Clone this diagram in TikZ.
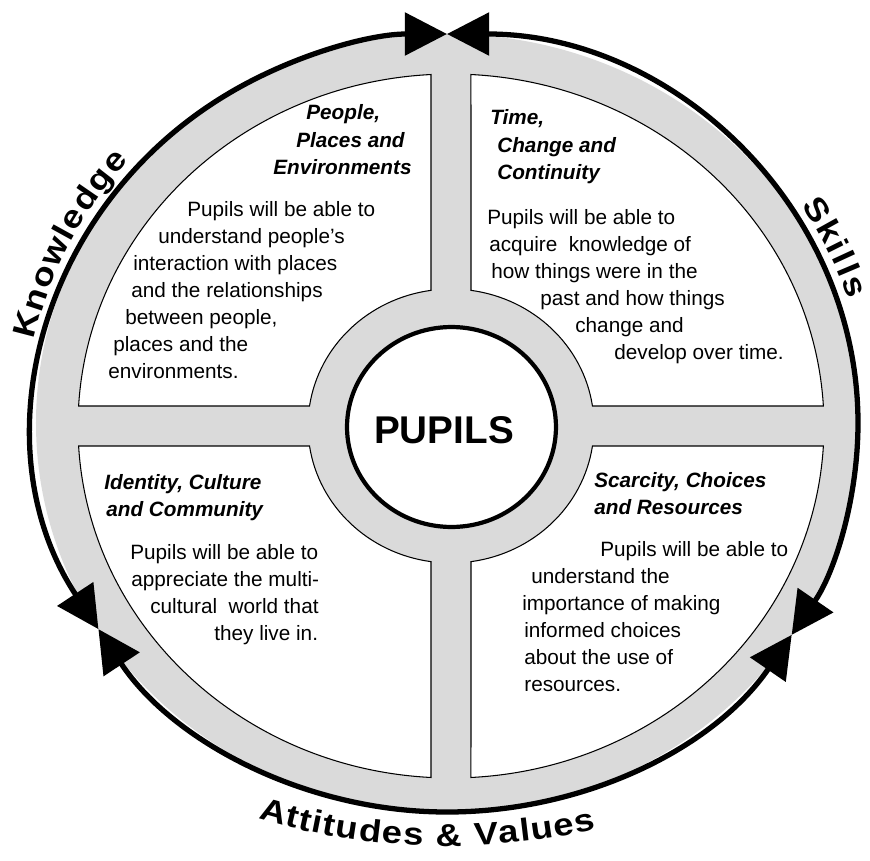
\documentclass[tikz,border=0pt]{standalone}
\usepackage{fontspec}
\setmainfont{Liberation Sans}
\newfontfamily\artfont[FakeStretch=1.15]{Liberation Sans}
\usetikzlibrary{arrows.meta,decorations.text,shapes.geometric}
\definecolor{ringgray}{RGB}{218,218,218}
\newcommand{\px}{0.02cm}
\newcommand{\curvefont}{\fontsize{18}{21}\artfont\bfseries}

\begin{document}
\begin{tikzpicture}[x=\px, y=\px,
    txt/.style={anchor=base west, inner sep=0pt, font=\fontsize{11.8}{14}\selectfont},
    head/.style={anchor=base west, inner sep=0pt, font=\fontsize{11.8}{14}\selectfont\bfseries\itshape},
    quad/.style={draw, fill=white, line width=0.6pt},
    ring/.style={line width=3pt, {Triangle[length=24pt,width=24pt]}-{Triangle[length=24pt,width=24pt]}},
    curved/.style={decorate, decoration={text along path, text align={fit to path}, text format delimiters={|}{|}}},
    pupilring/.style={ellipse, draw, fill=white, line width=2.4pt, minimum width=4.18cm, minimum height=4cm, inner sep=0pt}]
    \useasboundingbox (-447,-437) rectangle (423,423);

    % outer ring
    \fill[ringgray] (0,0) ellipse [x radius=411, y radius=389];
    \coordinate (top) at (90:411 and 389);
    \coordinate (left) at (212:411 and 389);
    \coordinate (right) at (-33:411 and 389);
    \draw[ring] (left) arc[start angle=212, end angle=90, x radius=411, y radius=389];
    \draw[ring] (top) arc[start angle=90, end angle=-33, x radius=411, y radius=389];
    \draw[ring] (right) arc[start angle=-33, end angle=-148, x radius=411, y radius=389];

    % words round the ring
    \path[curved, decoration={text={|\curvefont|Knowledge}}]
        (168:422 and 400) arc[start angle=168, end angle=139, x radius=422, y radius=400];
    \path[curved, decoration={text={|\curvefont|Skills}}]
        (33:422 and 400) arc[start angle=33, end angle=18, x radius=422, y radius=400];
    \path[curved, decoration={text={|\curvefont|Attitudes {\&} Values}}]
        ([shift={(0,242)}]253.5:665) arc[start angle=253.5, end angle=283, radius=665];

    % quadrants and centre
    \begin{scope}[shift={(4,-3)}]
        \foreach \sx/\sy in {1/1, -1/1, -1/-1, 1/-1}
            \draw[quad, xscale=\sx, yscale=\sy] (8.39:143 and 137) -- (3.26:373 and 352)
                arc[start angle=3.26, end angle=86.93, x radius=373, y radius=352]
                -- (81.96:143 and 137)
                arc[start angle=81.96, end angle=8.39, x radius=143, y radius=137] -- cycle;
        \node[pupilring] (ring) at (0.5,-1) {};
    \end{scope}

    \begin{scope}[shift={(-447,423)}, yscale=-1]
        \node[font=\fontsize{22}{26}\selectfont\bfseries] (pupils) at (444,430) {PUPILS};

        % People, Places and Environments
        \node[head] (tl-h1) at (306,119) {People,};
        \node[head] (tl-h2) at (296,147) {Places and};
        \node[head] (tl-h3) at (273,174) {Environments};
        \node[txt] (tl-1) at (187,216) {Pupils will be able to};
        \node[txt] (tl-2) at (158,243) {understand people’s};
        \node[txt] (tl-3) at (133,270) {interaction with places};
        \node[txt] (tl-4) at (131,297) {and the relationships};
        \node[txt] (tl-5) at (125,324) {between people,};
        \node[txt] (tl-6) at (113,351) {places and the};
        \node[txt] (tl-7) at (108,378) {environments.};

        % Time, Change and Continuity
        \node[head] (tr-h1) at (490,124) {Time,};
        \node[head] (tr-h2) at (497,152) {Change and};
        \node[head] (tr-h3) at (497,179) {Continuity};
        \node[txt] (tr-1) at (487,224) {Pupils will be able to};
        \node[txt] (tr-2) at (489,251) {acquire\ \ knowledge of};
        \node[txt] (tr-3) at (491,278) {how things were in the};
        \node[txt] (tr-4) at (540,305) {past and how things};
        \node[txt] (tr-5) at (575,332) {change and};
        \node[txt] (tr-6) at (614,359) {develop over time.};

        % Identity, Culture and Community
        \node[head] (bl-h1) at (104,489) {Identity, Culture};
        \node[head] (bl-h2) at (106,516) {and Community};
        \node[txt] (bl-1) at (130,559) {Pupils will be able to};
        \node[txt] (bl-2) at (131,586) {appreciate the multi-};
        \node[txt] (bl-3) at (150,613) {cultural\ \ world that};
        \node[txt] (bl-4) at (214,640) {they live in.};

        % Scarcity, Choices and Resources
        \node[head] (br-h1) at (594,487) {Scarcity, Choices};
        \node[head] (br-h2) at (594,514) {and Resources};
        \node[txt] (br-1) at (600,556) {Pupils will be able to};
        \node[txt] (br-2) at (531,583) {understand the};
        \node[txt] (br-3) at (522,610) {importance of making};
        \node[txt] (br-4) at (524,637) {informed choices};
        \node[txt] (br-5) at (524,664) {about the use of};
        \node[txt] (br-6) at (524,691) {resources.};
    \end{scope}
\end{tikzpicture}
\end{document}
